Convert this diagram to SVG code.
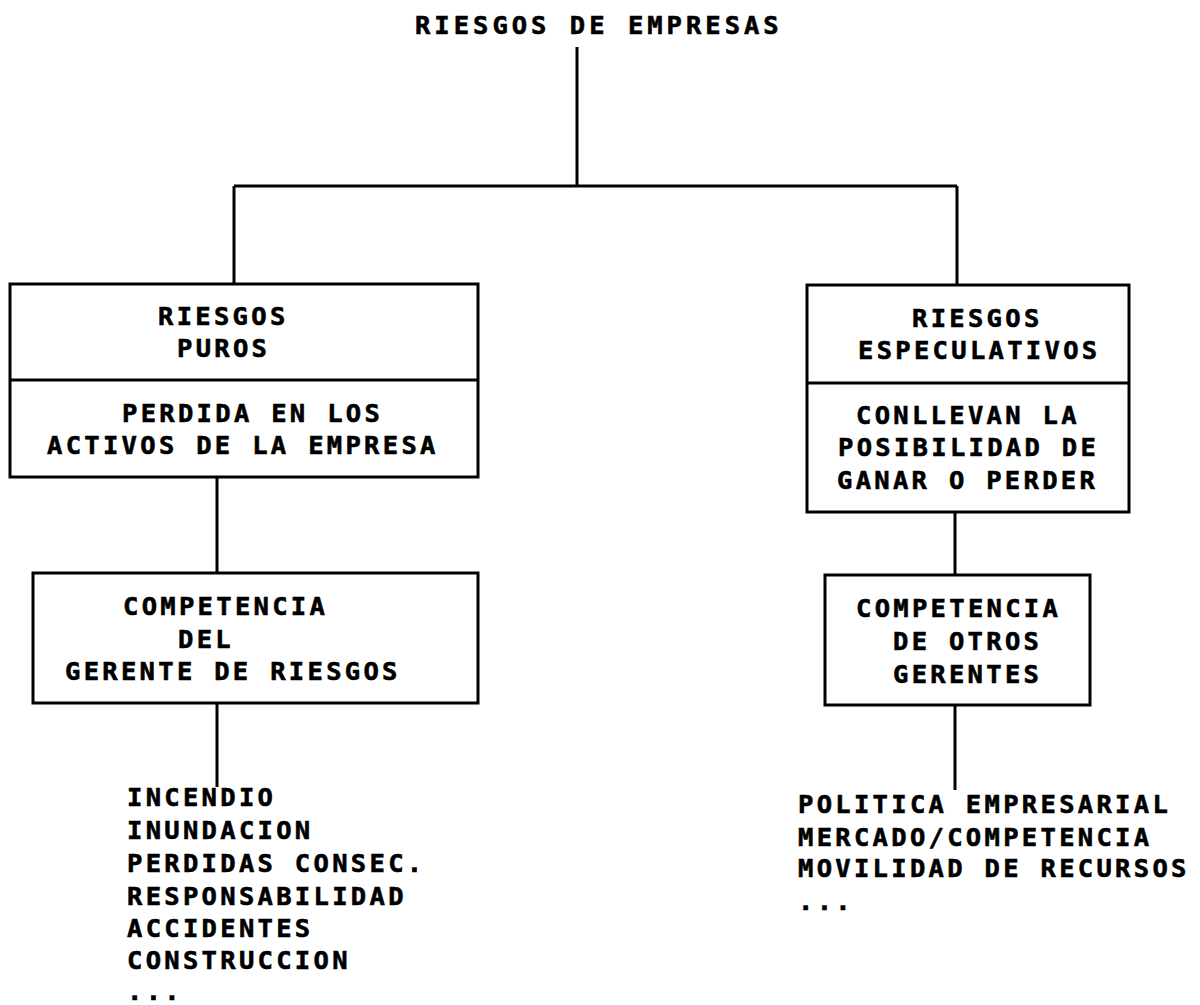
<svg xmlns="http://www.w3.org/2000/svg" width="1200" height="1005" viewBox="0 0 1200 1005">
<style>
.t{font-family:"DejaVu Sans Mono","Liberation Mono",monospace;font-weight:bold;font-size:25.5px;letter-spacing:3.3px;fill:#000;stroke:#000;stroke-width:0.6px}
.b{fill:#fff;stroke:#000;stroke-width:3}
.c{fill:none;stroke:#000;stroke-width:3}
</style>
<rect width="1200" height="1005" fill="#fff"/>
<g id="connectors">
<path class="c" d="M577 47V186M234 186H957M234 186V284M957 186V285"/>
<path class="c" d="M217 477V573M217 703V787"/>
<path class="c" d="M955 512V575M955 705V790"/>
</g>
<g id="root">
<text class="t" x="415" y="34" style="letter-spacing:4px">RIESGOS DE EMPRESAS</text>
</g>
<g id="puros">
<rect class="b" x="10" y="284" width="468" height="193"/>
<line class="c" x1="10" y1="380" x2="478" y2="380"/>
<text class="t" x="158" y="325">RIESGOS</text>
<text class="t" x="177" y="357">PUROS</text>
<text class="t" x="122" y="422">PERDIDA EN LOS</text>
<text class="t" x="47" y="454">ACTIVOS DE LA EMPRESA</text>
</g>
<g id="gerente">
<rect class="b" x="33" y="573" width="445" height="130"/>
<text class="t" x="123" y="615">COMPETENCIA</text>
<text class="t" x="178" y="648">DEL</text>
<text class="t" x="65" y="680">GERENTE DE RIESGOS</text>
</g>
<g id="lista-puros">
<text class="t" x="127" y="806">INCENDIO</text>
<text class="t" x="127" y="839">INUNDACION</text>
<text class="t" x="127" y="872">PERDIDAS CONSEC.</text>
<text class="t" x="127" y="905">RESPONSABILIDAD</text>
<text class="t" x="127" y="937">ACCIDENTES</text>
<text class="t" x="127" y="969">CONSTRUCCION</text>
<text class="t" x="127" y="1000">...</text>
</g>
<g id="especulativos">
<rect class="b" x="807" y="285" width="322" height="227"/>
<line class="c" x1="807" y1="383" x2="1129" y2="383"/>
<text class="t" x="912" y="327">RIESGOS</text>
<text class="t" x="858" y="359">ESPECULATIVOS</text>
<text class="t" x="856" y="424">CONLLEVAN LA</text>
<text class="t" x="838" y="456">POSIBILIDAD DE</text>
<text class="t" x="837" y="489">GANAR O PERDER</text>
</g>
<g id="otros">
<rect class="b" x="825" y="575" width="265" height="130"/>
<text class="t" x="856" y="617">COMPETENCIA</text>
<text class="t" x="893" y="650">DE OTROS</text>
<text class="t" x="893" y="683">GERENTES</text>
</g>
<g id="lista-especulativos">
<text class="t" x="798" y="813">POLITICA EMPRESARIAL</text>
<text class="t" x="798" y="846">MERCADO/COMPETENCIA</text>
<text class="t" x="798" y="877">MOVILIDAD DE RECURSOS</text>
<text class="t" x="798" y="910">...</text>
</g>
</svg>
